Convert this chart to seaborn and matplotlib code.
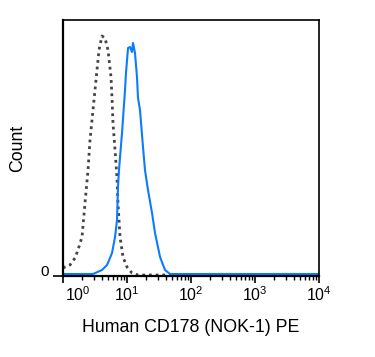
import numpy as np
import pandas as pd
import matplotlib
matplotlib.use("Agg")
import matplotlib.pyplot as plt
import matplotlib.transforms as mtransforms
import seaborn as sns

# Isotype control (dotted) : log10 intensity and count
ctrl_log = [0.0, 0.031, 0.109, 0.188, 0.234, 0.297, 0.344, 0.391, 0.422, 0.453, 0.5, 0.531,
            0.563, 0.609, 0.656, 0.703, 0.75, 0.766, 0.781, 0.813, 0.844, 0.859, 0.891, 0.938,
            1.0, 1.078, 1.172, 1.5, 2.0, 3.0, 4.0]
ctrl_cnt = [8, 9, 11, 18, 26, 39, 73, 106, 136, 156, 186, 206,
            226, 240, 238, 226, 199, 178, 153, 126, 98, 73, 39, 19,
            9, 3, 1, 1, 1, 1, 1]

# CD178 stained (blue)
stain_log = [0.0, 0.2, 0.469, 0.609, 0.688, 0.766, 0.813, 0.844, 0.859, 0.875, 0.922, 0.969,
             0.984, 1.016, 1.047, 1.078, 1.094, 1.125, 1.156, 1.172, 1.203, 1.25, 1.281,
             1.328, 1.391, 1.438, 1.516, 1.594, 1.672, 2.0, 3.0, 4.0]
stain_cnt = [2, 2, 2, 6, 11, 23, 39, 56, 89, 106, 143, 186,
             203, 228, 229, 224, 233, 223, 199, 178, 166, 129, 106,
             86, 63, 43, 19, 6, 2, 2, 2, 2]

xtick_exp = [0, 1, 2, 3, 4]

sns.set_style("ticks")
plt.rcParams['font.family'] = ['Liberation Sans', 'DejaVu Sans']
plt.rcParams['mathtext.fontset'] = 'custom'
plt.rcParams['mathtext.rm'] = 'Liberation Sans'
plt.rcParams['mathtext.it'] = 'Liberation Sans'
for k in ['text.color', 'axes.labelcolor', 'xtick.color', 'ytick.color']:
    plt.rcParams[k] = 'black'

fig = plt.figure(figsize=(3.75, 3.57), dpi=100)
ax = fig.add_axes([63/375, 1-276/357, (319-63)/375, (276-20)/357])

ctrl = pd.DataFrame({"x": 10**np.array(ctrl_log), "y": ctrl_cnt})
stain = pd.DataFrame({"x": 10**np.array(stain_log), "y": stain_cnt})

sns.lineplot(data=ctrl, x="x", y="y", ax=ax, color="#444444", lw=2.0,
             linestyle=(0, (1, 1.4)), sort=False)
sns.lineplot(data=stain, x="x", y="y", ax=ax, color="#0a7cff", lw=1.5, sort=False)

ax.set_xscale("log")
ax.set_xlim(1, 1e4)
ax.set_ylim(0, 256)
ax.set_xticks([10**e for e in xtick_exp])
ax.set_xticklabels([r"$\mathregular{10^{%d}}$" % e for e in xtick_exp], fontsize=11.5)
ax.xaxis.set_minor_locator(matplotlib.ticker.LogLocator(base=10, subs=np.arange(2, 10)))
ax.xaxis.set_minor_formatter(matplotlib.ticker.NullFormatter())
ax.set_yticks([0])
ax.set_yticklabels(["0"], fontsize=11)

ax.tick_params(axis="x", which="major", length=5, width=1.2, direction="out", pad=2, colors="black")
ax.tick_params(axis="x", which="minor", length=3, width=1.0, direction="out", colors="black")
ax.tick_params(axis="y", which="major", length=7, width=1.2, direction="out", pad=3, colors="black")

# shift first tick label right as in reference
lab0 = ax.get_xticklabels()[0]
lab0.set_transform(lab0.get_transform() + mtransforms.ScaledTranslation(15/100, 0, fig.dpi_scale_trans))
ylab = ax.get_yticklabels()[0]
ylab.set_transform(ylab.get_transform() + mtransforms.ScaledTranslation(0, 5/100, fig.dpi_scale_trans))

for s in ["left", "bottom"]:
    ax.spines[s].set_linewidth(1.6)
    ax.spines[s].set_color("black")
for s in ["top", "right"]:
    ax.spines[s].set_visible(True)
    ax.spines[s].set_linewidth(1.2)
    ax.spines[s].set_color("black")

ax.set_xlabel("Human CD178 (NOK-1) PE", fontsize=12.8, color="black")
ax.xaxis.set_label_coords(0.5, -(327-276)/256, transform=ax.transAxes)
ax.set_ylabel("Count", fontsize=12.8, color="black")
ax.yaxis.set_label_coords(-(63-18)/256, 0.5, transform=ax.transAxes)
ax.xaxis.label.set_va("center")
ax.yaxis.label.set_va("center")

fig.savefig("out.png", dpi=100)
